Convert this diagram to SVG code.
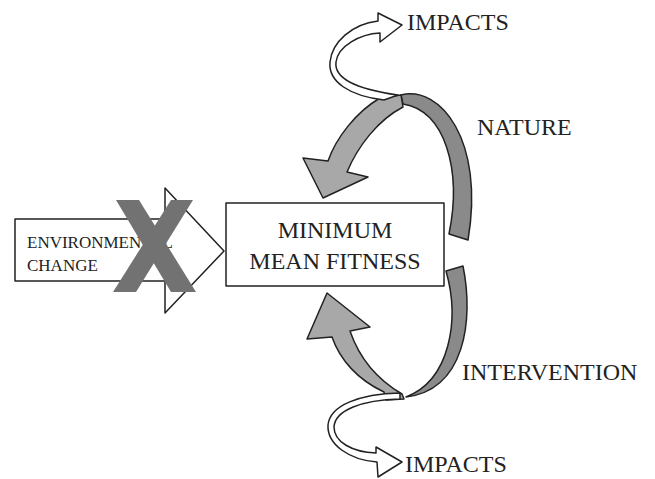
<svg xmlns="http://www.w3.org/2000/svg" width="655" height="479" viewBox="0 0 655 479">
<style>
.t{font-family:"Liberation Serif","Times New Roman",serif;fill:#222}
.ol{stroke:#222;stroke-width:1.5;stroke-linejoin:round}
.dark{fill:#8a8a8a}
.light{fill:#a8a8a8}
.white{fill:#fff}
</style>
<rect width="655" height="479" fill="#fff"/>
<g id="environmental-change">
<path class="ol white" d="M15 219 L165 219 L165 188 L224 251 L165 313 L165 281 L15 281 Z"/>
<text class="t" x="27" y="248" font-size="17">ENVIRONMENTAL</text>
<text class="t" x="27" y="271" font-size="17">CHANGE</text>
<g fill="#727272">
<polygon points="116,200 139,200 196,292 171,292"/>
<polygon points="171,200 193,200 136,292 113,292"/>
</g>
</g>
<g id="minimum-mean-fitness">
<rect class="ol white" x="226" y="203" width="218" height="83"/>
<text class="t" x="335" y="238" font-size="24" text-anchor="middle">MINIMUM</text>
<text class="t" x="335" y="269" font-size="24" text-anchor="middle">MEAN FITNESS</text>
</g>
<g id="connectors">
<g id="nature-loop">
<path class="ol dark" d="M401 95 C440 85 485 140 468 240 L449 234 C462 170 445 110 403 104 Z"/>
<path class="ol light" d="M380 98 L401 95 L403 107 C378 120 358 146 347 172 L368 177 L323 198 L303 158 L328 161 C336 138 356 112 380 98 Z"/>
<path class="ol white" d="M384 100 C350 96 328 82 330 62 C332 42 352 24 378 21 L378 13 L402 25 L380 42 L380 33 C360 34 338 46 336 62 C334 78 355 89 398 95 Z"/>
</g>
<g id="intervention-loop">
<path class="ol dark" d="M446 271 L463 266 C474 320 465 390 406 397 C450 380 460 320 446 271 Z"/>
<path class="ol light" d="M384 392 C358 380 340 360 332 337 L307 339 L327 293 L370 327 L350 331 C360 360 378 380 402 394 L404 399 L386 400 Z"/>
<path class="ol white" d="M400 393 C360 394 330 405 328 425 C327 445 350 460 377 462 L378 477 L402 462 L376 447 L376 453 C352 452 334 442 334 427 C335 410 362 400 400 399 Z"/>
</g>
</g>
<g id="labels">
<text class="t" x="407" y="30" font-size="24">IMPACTS</text>
<text class="t" x="477" y="135" font-size="24">NATURE</text>
<text class="t" x="462" y="380" font-size="24">INTERVENTION</text>
<text class="t" x="405" y="472" font-size="24">IMPACTS</text>
</g>
</svg>
